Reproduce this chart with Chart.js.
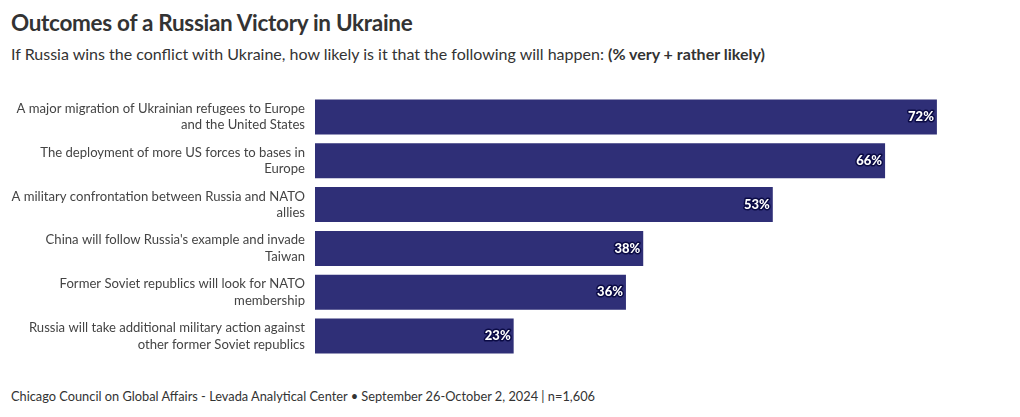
<!DOCTYPE html>
<html>
<head>
<meta charset="utf-8">
<script src="https://cdn.jsdelivr.net/npm/chart.js@4"></script>
<style>
  body { margin: 0; background: #fff; font-family: "Lato", sans-serif; color: #333; }
  #wrap { position: relative; width: 1020px; height: 417px; overflow: hidden; }
  .title { position: absolute; left: 11px; top: 9px; font-size: 22.5px; font-weight: 700; color: #333; letter-spacing: -0.3px; }
  .sub { position: absolute; left: 11px; top: 44px; font-size: 16px; color: #333; }
  .foot { position: absolute; left: 11px; top: 388px; font-size: 12.8px; color: #333; }
  #box { position: absolute; left: 0; top: 95px; width: 1020px; height: 263px; }
</style>
</head>
<body>
<div id="wrap">
  <div class="title">Outcomes of a Russian Victory in Ukraine</div>
  <div class="sub">If Russia wins the conflict with Ukraine, how likely is it that the following will happen: <b>(% very + rather likely)</b></div>
  <div id="box"><canvas id="Outcomes"></canvas></div>
  <div class="foot">Chicago Council on Global Affairs - Levada Analytical Center • September 26-October 2, 2024 | n=1,606</div>
</div>
<script>
const Outcomes = [
  ["A major migration of Ukrainian refugees to Europe", "and the United States"],
  ["The deployment of more US forces to bases in", "Europe"],
  ["A military confrontation between Russia and NATO", "allies"],
  ["China will follow Russia's example and invade", "Taiwan"],
  ["Former Soviet republics will look for NATO", "membership"],
  ["Russia will take additional military action against", "other former Soviet republics"]
];
const Likely = [72, 66, 53, 38, 36, 23];

const barLabels = {
  id: "barLabels",
  afterDatasetsDraw(chart) {
    const ctx = chart.ctx;
    const meta = chart.getDatasetMeta(0);
    ctx.save();
    ctx.font = "900 13px Lato";
    ctx.textAlign = "right";
    ctx.textBaseline = "middle";
    ctx.lineJoin = "round";
    meta.data.forEach(function (bar, i) {
      const txt = Likely[i] + "%";
      ctx.lineWidth = 3;
      ctx.strokeStyle = "#0b0b45";
      ctx.strokeText(txt, bar.x - 3, bar.y);
      ctx.fillStyle = "#ffffff";
      ctx.fillText(txt, bar.x - 3, bar.y);
    });
    ctx.restore();
  }
};

const ctx = document.getElementById("Outcomes").getContext("2d");
const chart = new Chart(ctx, {
  type: "bar",
  data: {
    labels: Outcomes,
    datasets: [
      {
        label: "% very + rather likely",
        data: Likely,
        backgroundColor: "#2f2f77",
        borderWidth: 0,
        barPercentage: 0.8,
        categoryPercentage: 1
      }
    ]
  },
  options: {
    indexAxis: "y",
    responsive: true,
    maintainAspectRatio: false,
    animation: false,
    layout: { padding: { left: 0, right: 14, top: 0, bottom: 0 } },
    plugins: { legend: { display: false }, tooltip: { enabled: false } },
    scales: {
      x: { display: false, min: 0, max: 80 },
      y: {
        grid: { display: false, drawTicks: false },
        border: { display: false },
        ticks: { color: "#444", font: { family: "Lato", size: 13.1, lineHeight: 1.25 }, padding: 10 },
        afterFit(scale) {
          scale.width = 315;
          scale.paddingTop = 0;
          scale.paddingBottom = 0;
        }
      }
    }
  },
  plugins: [barLabels]
});
</script>
</body>
</html>
